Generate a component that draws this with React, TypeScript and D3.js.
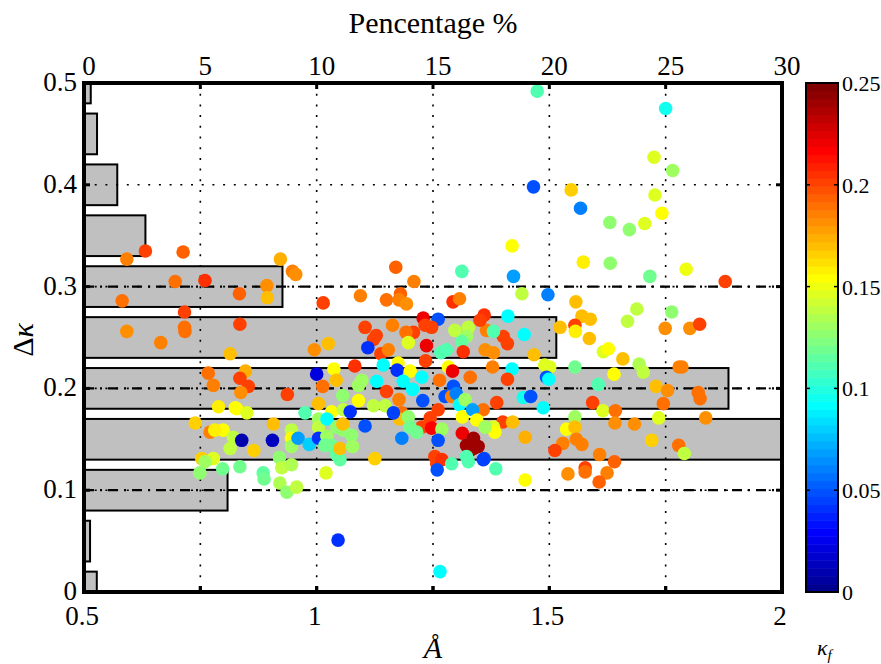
import * as d3 from 'd3';

// histogram of delta kappa (bin centre, percentage)
const binCenters = [0, 0.05, 0.1, 0.15, 0.2, 0.25, 0.3, 0.35, 0.4, 0.45, 0.5];
const binPercent = [0.55, 0.26, 6.17, 30, 27.7, 20.3, 8.53, 2.64, 1.43, 0.56, 0.29];

const percentTicks = [0, 5, 10, 15, 20, 25, 30];
const angstromTicks = [0.5, 1, 1.5, 2];
const angstromMinor = [0.5, 0.75, 1, 1.25, 1.5, 1.75, 2];
const deltaTicks = [0, 0.1, 0.2, 0.3, 0.4, 0.5];
const dashDotLevels = [0.1, 0.2, 0.3];
const colorTicks = [0, 0.05, 0.1, 0.15, 0.2, 0.25];

// [Angstrom exponent, delta kappa, kappa_f]
const points: [number, number, number][] = [
  [1.474, 0.492, 0.11], [1.466, 0.398, 0.05], [1.42, 0.34, 0.155], [1.312, 0.315, 0.11],
  [1.423, 0.31, 0.07], [1.441, 0.293, 0.14], [1.497, 0.292, 0.06], [0.592, 0.327, 0.185],
  [0.632, 0.335, 0.2], [0.713, 0.334, 0.195], [0.922, 0.327, 0.175], [0.948, 0.315, 0.185],
  [0.955, 0.312, 0.18], [0.696, 0.305, 0.19], [0.76, 0.306, 0.205], [0.893, 0.301, 0.18],
  [0.894, 0.289, 0.17], [0.834, 0.293, 0.195], [0.582, 0.286, 0.19], [0.716, 0.275, 0.2],
  [1.014, 0.284, 0.2], [1.094, 0.291, 0.185], [1.17, 0.319, 0.195], [1.209, 0.305, 0.185],
  [1.15, 0.287, 0.19], [1.18, 0.293, 0.195], [1.177, 0.287, 0.185], [1.193, 0.283, 0.18],
  [1.293, 0.285, 0.205], [1.307, 0.288, 0.185], [1.229, 0.269, 0.22], [1.261, 0.268, 0.05],
  [1.36, 0.272, 0.205], [1.411, 0.271, 0.09],
  [1.75, 0.475, 0.095], [1.725, 0.427, 0.145], [1.765, 0.414, 0.13], [1.547, 0.395, 0.165],
  [1.567, 0.377, 0.06], [1.727, 0.39, 0.145], [1.742, 0.372, 0.155], [1.63, 0.363, 0.125],
  [1.672, 0.356, 0.125], [1.705, 0.362, 0.145], [1.573, 0.324, 0.16], [1.631, 0.323, 0.125],
  [1.794, 0.317, 0.15], [1.716, 0.31, 0.12], [1.878, 0.305, 0.2], [1.557, 0.285, 0.17],
  [1.688, 0.278, 0.14], [1.763, 0.275, 0.125], [1.668, 0.266, 0.14], [1.57, 0.271, 0.17],
  [1.588, 0.268, 0.17], [1.555, 0.262, 0.2], [1.556, 0.256, 0.16], [1.523, 0.26, 0.17],
  [1.586, 0.249, 0.17], [1.749, 0.259, 0.18], [1.802, 0.259, 0.18], [1.823, 0.263, 0.2],
  [1.467, 0.233, 0.17], [1.616, 0.236, 0.145], [1.627, 0.239, 0.155], [1.658, 0.229, 0.17],
  [1.693, 0.224, 0.135], [1.702, 0.216, 0.14], [1.49, 0.223, 0.145], [1.501, 0.221, 0.145],
  [1.555, 0.221, 0.12], [1.639, 0.214, 0.155], [1.779, 0.221, 0.185], [1.785, 0.221, 0.185],
  [1.494, 0.211, 0.05], [1.499, 0.209, 0.09], [1.605, 0.204, 0.11], [1.729, 0.202, 0.17],
  [1.754, 0.198, 0.18], [1.82, 0.196, 0.19], [1.824, 0.19, 0.19], [1.593, 0.186, 0.2],
  [1.615, 0.178, 0.145], [1.642, 0.178, 0.19], [1.745, 0.185, 0.19], [1.735, 0.171, 0.145],
  [1.836, 0.171, 0.18], [1.641, 0.166, 0.18], [1.683, 0.165, 0.18], [1.72, 0.149, 0.165],
  [1.778, 0.144, 0.19], [1.79, 0.136, 0.14], [1.448, 0.152, 0.175], [1.555, 0.172, 0.13],
  [1.537, 0.16, 0.155], [1.555, 0.162, 0.17], [1.558, 0.15, 0.185], [1.57, 0.145, 0.185],
  [1.529, 0.146, 0.185], [1.512, 0.139, 0.2], [1.608, 0.135, 0.185], [1.64, 0.128, 0.195],
  [1.54, 0.116, 0.18], [1.577, 0.122, 0.2], [1.577, 0.118, 0.19], [1.624, 0.117, 0.185],
  [1.607, 0.108, 0.195], [1.448, 0.11, 0.155], [1.385, 0.121, 0.11], [1.446, 0.253, 0.09],
  [1.401, 0.251, 0.2], [1.41, 0.244, 0.2], [1.365, 0.257, 0.185], [1.38, 0.256, 0.11],
  [1.362, 0.238, 0.18], [1.38, 0.235, 0.18], [1.378, 0.221, 0.185], [1.42, 0.219, 0.09],
  [1.41, 0.209, 0.2], [1.444, 0.191, 0.095], [1.46, 0.192, 0.05], [1.487, 0.181, 0.09],
  [1.387, 0.186, 0.2], [1.358, 0.179, 0.19], [1.4, 0.167, 0.2], [1.421, 0.167, 0.17],
  [1.38, 0.162, 0.145], [1.383, 0.157, 0.155], [1.36, 0.131, 0.05],
  [1.163, 0.262, 0.185], [1.233, 0.262, 0.2], [1.247, 0.26, 0.2], [1.208, 0.255, 0.2],
  [1.192, 0.255, 0.19], [1.128, 0.252, 0.2], [1.122, 0.248, 0.2], [1.197, 0.245, 0.145],
  [1.236, 0.242, 0.22], [1.11, 0.24, 0.04], [1.138, 0.234, 0.2], [1.154, 0.238, 0.185],
  [1.297, 0.257, 0.14], [1.326, 0.26, 0.14], [1.322, 0.251, 0.13], [1.312, 0.246, 0.115],
  [1.351, 0.267, 0.2], [1.315, 0.236, 0.205], [1.267, 0.235, 0.11], [1.279, 0.238, 0.11],
  [1.234, 0.227, 0.2], [1.143, 0.223, 0.09], [1.175, 0.225, 0.155], [1.173, 0.218, 0.04],
  [1.201, 0.217, 0.155], [1.283, 0.221, 0.155], [1.292, 0.217, 0.22], [1.226, 0.211, 0.09],
  [1.264, 0.208, 0.19], [1.33, 0.211, 0.19], [1.129, 0.207, 0.09], [1.186, 0.207, 0.09],
  [1.15, 0.197, 0.2], [1.206, 0.199, 0.09], [1.177, 0.189, 0.185], [1.228, 0.188, 0.05],
  [1.276, 0.192, 0.05], [1.294, 0.202, 0.05], [1.29, 0.192, 0.185], [1.3, 0.195, 0.06],
  [1.307, 0.184, 0.09], [1.319, 0.189, 0.13], [1.122, 0.183, 0.14], [1.147, 0.183, 0.14],
  [1.183, 0.176, 0.19], [1.178, 0.17, 0.17], [1.197, 0.172, 0.125], [1.261, 0.179, 0.2],
  [1.244, 0.171, 0.2], [1.226, 0.162, 0.2], [1.247, 0.161, 0.215], [1.269, 0.16, 0.13],
  [1.201, 0.162, 0.12], [1.215, 0.157, 0.12], [1.183, 0.151, 0.06], [1.261, 0.149, 0.05],
  [1.313, 0.172, 0.155], [1.335, 0.179, 0.07], [1.344, 0.169, 0.155], [1.362, 0.162, 0.13],
  [1.313, 0.156, 0.22], [1.322, 0.144, 0.24], [1.337, 0.151, 0.24], [1.347, 0.143, 0.24],
  [1.329, 0.139, 0.24], [1.337, 0.141, 0.24], [1.358, 0.13, 0.045], [1.322, 0.133, 0.11],
  [1.326, 0.128, 0.11], [1.254, 0.133, 0.2], [1.258, 0.126, 0.2], [1.269, 0.13, 0.205],
  [1.259, 0.12, 0.05], [1.29, 0.126, 0.11], [1.125, 0.131, 0.165], [1.165, 0.176, 0.045],
  [0.814, 0.234, 0.17], [0.835, 0.263, 0.2], [1.025, 0.244, 0.17], [0.995, 0.238, 0.18],
  [0.767, 0.215, 0.19], [0.778, 0.203, 0.185], [0.847, 0.217, 0.175], [0.835, 0.21, 0.2],
  [0.853, 0.202, 0.2], [0.837, 0.196, 0.18], [0.937, 0.194, 0.2], [1.0, 0.214, 0.02],
  [1.037, 0.219, 0.155], [1.042, 0.208, 0.17], [1.013, 0.202, 0.19], [1.082, 0.222, 0.205],
  [1.097, 0.208, 0.13], [1.09, 0.203, 0.13], [1.056, 0.193, 0.125], [1.004, 0.185, 0.17],
  [1.09, 0.188, 0.155], [0.789, 0.182, 0.16], [0.825, 0.181, 0.155], [0.828, 0.18, 0.155],
  [0.85, 0.176, 0.145], [0.975, 0.176, 0.11], [1.032, 0.177, 0.155], [1.057, 0.179, 0.14],
  [1.072, 0.177, 0.04], [1.004, 0.17, 0.13], [1.004, 0.162, 0.14], [1.022, 0.17, 0.09],
  [1.043, 0.162, 0.125], [1.057, 0.159, 0.125], [1.075, 0.154, 0.125], [1.056, 0.165, 0.17],
  [1.104, 0.163, 0.05], [0.907, 0.165, 0.17], [0.946, 0.159, 0.14], [0.946, 0.151, 0.155],
  [0.946, 0.143, 0.13], [0.96, 0.151, 0.07], [0.984, 0.145, 0.08], [1.004, 0.151, 0.04],
  [1.022, 0.153, 0.13], [1.018, 0.144, 0.12], [1.032, 0.144, 0.12], [1.043, 0.135, 0.115],
  [1.05, 0.13, 0.115], [1.05, 0.141, 0.17], [1.077, 0.143, 0.13], [0.771, 0.157, 0.185],
  [0.799, 0.159, 0.155], [0.781, 0.159, 0.16], [0.821, 0.152, 0.14], [0.839, 0.149, 0.01],
  [0.814, 0.141, 0.14], [0.865, 0.139, 0.165], [0.905, 0.149, 0.015], [0.753, 0.131, 0.165],
  [0.778, 0.131, 0.145], [0.76, 0.128, 0.13], [0.798, 0.121, 0.12], [0.835, 0.123, 0.12],
  [0.885, 0.117, 0.115], [0.887, 0.111, 0.12], [0.92, 0.132, 0.125], [0.925, 0.122, 0.14],
  [0.946, 0.125, 0.135], [0.921, 0.107, 0.135], [0.936, 0.098, 0.125], [0.957, 0.103, 0.14],
  [1.02, 0.117, 0.145], [0.749, 0.117, 0.125], [0.592, 0.256, 0.18], [0.665, 0.245, 0.185],
  [0.716, 0.26, 0.19], [0.717, 0.256, 0.19], [1.104, 0.26, 0.2], [0.739, 0.166, 0.165],
  [1.046, 0.051, 0.04], [1.265, 0.02, 0.09],
];

// MATLAB jet(64)
function jet64(i: number): string {
  const n = 16;
  const u = [
    ...d3.range(1, n + 1).map(k => k / n),
    ...d3.range(n - 1).map(() => 1),
    ...d3.range(n, 0, -1).map(k => k / n),
  ];
  const row = i + 1;
  const pick = (idx: number) => (idx >= 1 && idx <= u.length ? u[idx - 1] : 0);
  const r = pick(row - 24);
  const g = pick(row - 8);
  const b = pick(row + 8);
  return d3.rgb(r * 255, g * 255, b * 255).formatHex();
}

const cmin = 0;
const cmax = 0.25;
const colorOf = (c: number) => jet64(Math.max(0, Math.min(63, Math.floor(((c - cmin) / (cmax - cmin)) * 64))));

const left = 84, right = 782, top = 83, bottom = 592;
const cbLeft = 806, cbRight = 838;
const serif = { fontFamily: "'Liberation Serif', serif" };

export default function App() {
  const x = d3.scaleLinear().domain([0.5, 2]).range([left, right]);
  const pct = d3.scaleLinear().domain([0, 30]).range([left, right]);
  const y = d3.scaleLinear().domain([0, 0.5]).range([bottom, top]);
  const cb = d3.scaleLinear().domain([cmin, cmax]).range([bottom, top]);
  const binH = 0.04;

  return (
    <svg width={881} height={664} style={{ position: 'absolute', left: 0, top: 0, background: '#fff' }}>
      {/* histogram bars */}
      {binCenters.map((c, i) => {
        const y0 = Math.max(0, c - binH / 2);
        const y1 = Math.min(0.5, c + binH / 2);
        return (
          <rect key={'b' + i} x={pct(0)} y={y(y1)} width={pct(binPercent[i]) - pct(0)} height={y(y0) - y(y1)}
            fill="#c0c0c0" stroke="#000" strokeWidth={2} />
        );
      })}

      {/* grid */}
      {percentTicks.slice(1, -1).map(p => (
        <line key={'gv' + p} x1={pct(p)} x2={pct(p)} y1={top} y2={bottom} stroke="#000" strokeWidth={1.6} strokeDasharray="2,8.7" />
      ))}
      {deltaTicks.slice(1, -1).map(v => (
        <line key={'gh' + v} x1={left} x2={right} y1={y(v)} y2={y(v)} stroke="#000" strokeWidth={1.6} strokeDasharray="2,8.7" />
      ))}
      {dashDotLevels.map(v => (
        <line key={'dd' + v} x1={left} x2={right} y1={y(v)} y2={y(v)} stroke="#000" strokeWidth={2.2} strokeDasharray="10,6,2,6" />
      ))}

      {/* scatter */}
      {points.map((p, i) => (
        <circle key={'p' + i} cx={x(p[0])} cy={y(p[1])} r={6.8} fill={colorOf(p[2])} />
      ))}

      {/* ticks */}
      {percentTicks.map(p => (
        <g key={'tp' + p}>
          <line x1={pct(p)} x2={pct(p)} y1={top} y2={top + 6} stroke="#000" strokeWidth={3} />
          <line x1={pct(p)} x2={pct(p)} y1={bottom} y2={bottom - 6} stroke="#000" strokeWidth={3} />
          <text x={pct(p) + 5} y={75} textAnchor="middle" fontSize={27} style={serif}>{p}</text>
        </g>
      ))}
      {deltaTicks.map(v => (
        <g key={'ty' + v}>
          <line x1={left} x2={left + 6} y1={y(v)} y2={y(v)} stroke="#000" strokeWidth={3} />
          <line x1={right} x2={right - 6} y1={y(v)} y2={y(v)} stroke="#000" strokeWidth={3} />
          <text x={77} y={y(v) + 8} textAnchor="end" fontSize={27} style={serif}>{v === 0 ? '0' : v}</text>
        </g>
      ))}
      {angstromMinor.map(a => (
        <line key={'tm' + a} x1={x(a)} x2={x(a)} y1={bottom} y2={bottom - 6} stroke="#000" strokeWidth={3} />
      ))}
      {angstromTicks.map(a => (
        <text key={'tx' + a} x={x(a) - 2} y={625} textAnchor="middle" fontSize={27} style={serif}>{a}</text>
      ))}

      {/* frame */}
      <rect x={left} y={top} width={right - left} height={bottom - top} fill="none" stroke="#000" strokeWidth={4} />

      {/* axis titles */}
      <text x={433} y={33} textAnchor="middle" fontSize={30} style={serif}>Pencentage %</text>
      <text x={433} y={658} textAnchor="middle" fontSize={30} fontStyle="italic" style={serif}>Å</text>
      <text transform="translate(33,340) rotate(-90)" textAnchor="middle" fontSize={30} style={serif}>
        Δ<tspan fontStyle="italic">κ</tspan>
      </text>

      {/* colorbar */}
      {d3.range(64).map(i => {
        const v0 = cmin + (i / 64) * (cmax - cmin);
        const v1 = cmin + ((i + 1) / 64) * (cmax - cmin);
        return <rect key={'cb' + i} x={cbLeft} y={cb(v1)} width={cbRight - cbLeft} height={cb(v0) - cb(v1) + 0.5} fill={jet64(i)} />;
      })}
      <rect x={cbLeft} y={top} width={cbRight - cbLeft} height={bottom - top} fill="none" stroke="#000" strokeWidth={2} />
      {colorTicks.map(v => (
        <g key={'ct' + v}>
          <line x1={cbLeft} x2={cbLeft + 4} y1={cb(v)} y2={cb(v)} stroke="#000" strokeWidth={1.5} />
          <line x1={cbRight} x2={cbRight - 4} y1={cb(v)} y2={cb(v)} stroke="#000" strokeWidth={1.5} />
          <text x={842} y={cb(v) + 8} fontSize={22} style={serif}>{v === 0 ? '0' : v}</text>
        </g>
      ))}
      <text x={817} y={655} fontSize={22} fontStyle="italic" style={serif}>
        κ<tspan fontSize={15} dy={5}>f</tspan>
      </text>
    </svg>
  );
}
